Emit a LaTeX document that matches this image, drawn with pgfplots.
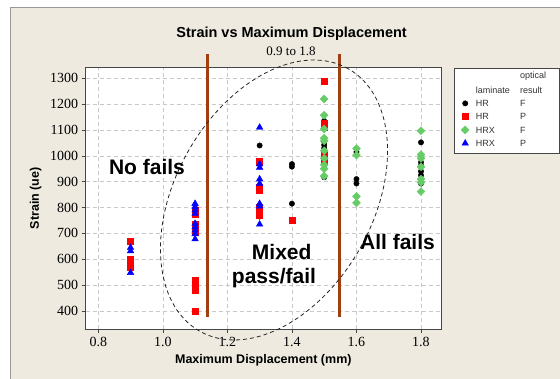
\documentclass[border=0pt]{standalone}
\usepackage{fontspec}
\setmainfont{Liberation Serif}
\setsansfont{Liberation Sans}
\usepackage{pgfplots}
\pgfplotsset{compat=1.18}
\definecolor{bg}{RGB}{238,234,224}
\definecolor{brn}{RGB}{160,64,16}
\definecolor{grn}{RGB}{102,204,102}
\definecolor{gridc}{RGB}{200,200,200}
\definecolor{frm}{RGB}{70,70,70}
\begin{document}
\begin{tikzpicture}[x=1pt,y=1pt]
\path[use as bounding box] (0,0) rectangle (560,379);
\fill[white] (0,0) rectangle (560,379);
\fill[bg] (10.7,0) rectangle (560,371.7);
\draw[gray!80, line width=0.8pt] (10.7,0) -- (10.7,371.7) -- (560,371.7);
% legend box
\fill[white] (454.3,225.7) rectangle (559.3,310.7);
\draw[frm, line width=0.8pt] (454.3,225.7) rectangle (559.3,310.7);
\begin{axis}[
  at={(85.7pt,49.7pt)}, anchor=south west,
  scale only axis, width=355.3pt, height=262pt,
  xmin=0.761, xmax=1.862, ymin=329, ymax=1342.5,
  clip=false,
  axis background/.style={fill=white},
  axis line style={frm, line width=0.8pt},
  xtick={0.8,1.0,1.2,1.4,1.6,1.8},
  ytick={400,500,600,700,800,900,1000,1100,1200,1300},
  tick pos=left, tick align=outside, major tick length=4pt,
  tick style={frm, line width=0.6pt},
  grid=major,
  major grid style={gridc, line width=0.6pt, dash pattern=on 4pt off 3pt},
  /pgf/number format/assume math mode=true,
  xticklabel style={font=\fontsize{14}{16}\selectfont, /pgf/number format/.cd, fixed, fixed zerofill, precision=1},
  yticklabel style={font=\fontsize{14}{16}\selectfont, /pgf/number format/.cd, 1000 sep={}},
  xlabel={Maximum Displacement (mm)},
  ylabel={Strain (ue)},
  xlabel style={font=\sffamily\bfseries\fontsize{12.5}{14}\selectfont, at={(axis description cs:0.5,-0.117)}, anchor=center},
  ylabel style={font=\sffamily\bfseries\fontsize{12.5}{14}\selectfont, at={(axis description cs:-0.1407,0.5)}, anchor=center, rotate=0},
  only marks,
  legend style={draw=none, fill=none, inner sep=0pt, at={(1.0535,0.8859)}, anchor=north west,
    font=\sffamily\fontsize{9}{10}\selectfont, text=black!80, row sep=0pt, column sep=0pt,
    nodes={inner sep=0pt, text height=9.3pt, text depth=4pt},
    cells={anchor=base west}},
  legend image code/.code={\path[draw=none, fill=none] (-5pt,-4pt) rectangle (10.7pt,9.3pt); \draw[#1] plot coordinates {(0pt,3.3pt)};},
]
\addplot[mark=*, mark size=2.7pt, color=black] coordinates {
(1.3,1040) (1.3,765)
(1.4,968) (1.4,958) (1.4,815)
(1.5,1135) (1.5,1055) (1.5,1042) (1.5,1030) (1.5,917)
(1.6,1015) (1.6,910) (1.6,893)
(1.8,1052) (1.8,975) (1.8,962) (1.8,940) (1.8,925) (1.8,893)
};
\addlegendentry{\makebox[44.3pt][l]{HR}F}
\addplot[mark=square*, mark size=3pt, color=red] coordinates {
(0.9,670) (0.9,600) (0.9,585) (0.9,570)
(1.1,790) (1.1,775) (1.1,735) (1.1,720) (1.1,705) (1.1,520) (1.1,500) (1.1,480) (1.1,400)
(1.3,980) (1.3,975) (1.3,880) (1.3,868) (1.3,800) (1.3,785) (1.3,770)
(1.4,750)
(1.5,1290) (1.5,1125) (1.5,1112) (1.5,1010) (1.5,995) (1.5,980)
};
\addlegendentry{\makebox[44.3pt][l]{HR}P}
\addplot[mark=square*, mark size=2.8pt, mark options={rotate=45}, color=grn] coordinates {
(1.5,1220) (1.5,1157) (1.5,1104) (1.5,1068) (1.5,1058) (1.5,1020) (1.5,990) (1.5,965) (1.5,950) (1.5,922)
(1.6,1028) (1.6,1003) (1.6,843) (1.6,818)
(1.8,1097) (1.8,1005) (1.8,990) (1.8,957) (1.8,910) (1.8,897) (1.8,862)
};
\addlegendentry{\makebox[44.3pt][l]{HRX}F}
\addplot[mark=triangle*, mark size=3.8pt, color=blue] coordinates {
(0.9,645) (0.9,632) (0.9,548)
(1.1,815) (1.1,803) (1.1,790) (1.1,777) (1.1,738) (1.1,725) (1.1,712) (1.1,698) (1.1,678)
(1.3,1110) (1.3,968) (1.3,955) (1.3,910) (1.3,893) (1.3,815) (1.3,805) (1.3,735)
};
\addlegendentry{\makebox[44.3pt][l]{HRX}P}
\addplot[no marks, sharp plot, brn, line width=3pt, forget plot] coordinates {(1.138,378) (1.138,1394)};
\addplot[no marks, sharp plot, brn, line width=3pt, forget plot] coordinates {(1.546,378) (1.546,1394)};
\end{axis}
\draw[black!85, line width=0.8pt, dash pattern=on 4pt off 3pt, rotate around={60.5:(274,179)}] (274,179) ellipse [x radius=150.8pt, y radius=98.7pt];
% titles
\node[font=\sffamily\bfseries\fontsize{14.5}{16}\selectfont] at (291.6,345.7) {Strain vs Maximum Displacement};
\node[font=\fontsize{13}{15}\selectfont] at (291,327.3) {0.9 to 1.8};
% annotations
\node[font=\sffamily\bfseries\fontsize{21}{24}\selectfont] at (147,212.3) {No fails};
\node[font=\sffamily\bfseries\fontsize{21}{24}\selectfont] at (281.7,127.3) {Mixed};
\node[font=\sffamily\bfseries\fontsize{21}{24}\selectfont] at (274,101) {pass/fail};
\node[font=\sffamily\bfseries\fontsize{21}{24}\selectfont] at (397.5,136.7) {All fails};
% legend header
\node[font=\sffamily\fontsize{9}{10}\selectfont, text=black!80, anchor=west, inner sep=0pt] at (520,303) {optical};
\node[font=\sffamily\fontsize{9}{10}\selectfont, text=black!80, anchor=west, inner sep=0pt] at (520,288.3) {result};
\node[font=\sffamily\fontsize{9}{10}\selectfont, text=black!80, anchor=west, inner sep=0pt] at (475.7,288.3) {laminate};
\end{tikzpicture}
\end{document}
